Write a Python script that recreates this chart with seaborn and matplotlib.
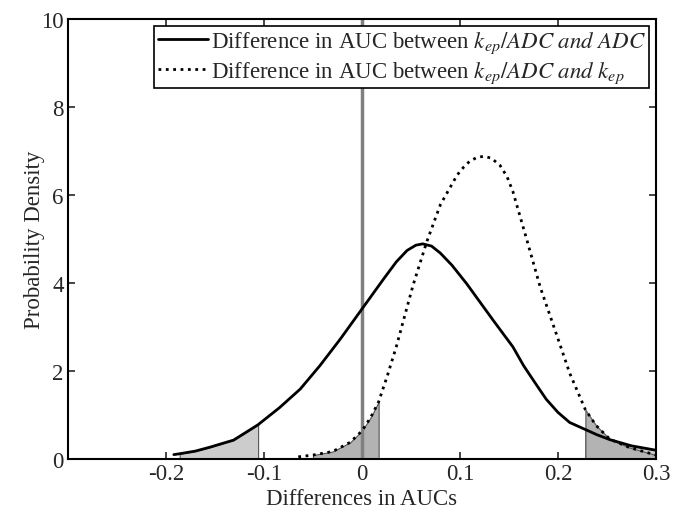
import numpy as np
import pandas as pd
import matplotlib
matplotlib.use("Agg")
import matplotlib.pyplot as plt
import seaborn as sns

# Density curves
solid_x = [-0.192, -0.186, -0.170, -0.155, -0.131, -0.106, -0.084, -0.063, -0.043, -0.022,
           0.000, 0.022, 0.035, 0.046, 0.055, 0.062, 0.071, 0.080, 0.092, 0.107,
           0.120, 0.134, 0.154, 0.165, 0.177, 0.188, 0.200, 0.212, 0.228, 0.240,
           0.253, 0.275, 0.300]
solid_y = [0.10, 0.12, 0.18, 0.27, 0.43, 0.78, 1.17, 1.59, 2.12, 2.73,
           3.41, 4.09, 4.48, 4.74, 4.86, 4.89, 4.84, 4.68, 4.40, 3.98,
           3.58, 3.15, 2.55, 2.12, 1.72, 1.36, 1.06, 0.83, 0.67, 0.55,
           0.44, 0.30, 0.20]

dotted_x = [-0.065, -0.050, -0.030, -0.012, 0.000, 0.009, 0.017, 0.026, 0.035, 0.052,
            0.066, 0.080, 0.097, 0.104, 0.110, 0.117, 0.124, 0.132, 0.141, 0.148,
            0.154, 0.168, 0.182, 0.199, 0.212, 0.228, 0.239, 0.253, 0.273, 0.300]
dotted_y = [0.05, 0.09, 0.17, 0.38, 0.64, 0.95, 1.30, 1.90, 2.55, 3.94,
            4.93, 5.78, 6.45, 6.64, 6.77, 6.85, 6.88, 6.84, 6.67, 6.42,
            6.08, 5.00, 3.90, 2.80, 1.95, 1.12, 0.76, 0.45, 0.26, 0.09]

# tail limits (shaded areas)
solid_tails = [(-0.186, -0.106), (0.228, 0.300)]
dotted_tails = [(-0.063, 0.017), (0.228, 0.300)]

label_solid = r"Difference in AUC between $k_{ep}/ADC\ and\ ADC$"
label_dotted = r"Difference in AUC between $k_{ep}/ADC\ and\ k_{ep}$"

sns.set_style("ticks")
plt.rcParams["font.family"] = ["Liberation Serif", "DejaVu Serif"]
plt.rcParams["mathtext.fontset"] = "stix"

fig = plt.figure(figsize=(6.86, 5.10), dpi=100)
ax = fig.add_axes([0.0991, 0.098, 0.8571, 0.8627])

sx, sy = np.array(solid_x), np.array(solid_y)
dx, dy = np.array(dotted_x), np.array(dotted_y)

for lo, hi in solid_tails:
    m = (sx >= lo) & (sx <= hi)
    ax.fill_between(sx[m], 0, sy[m], facecolor="#cccccc", edgecolor="#555555", linewidth=0.8, zorder=1)
for lo, hi in dotted_tails:
    m = (dx >= lo) & (dx <= hi)
    ax.fill_between(dx[m], 0, dy[m], facecolor="#b3b3b3", edgecolor="#555555", linewidth=0.8, zorder=1)

ax.axvline(0, color="#808080", linewidth=2.5, zorder=2)

df_s = pd.DataFrame({"x": solid_x, "y": solid_y})
df_d = pd.DataFrame({"x": dotted_x, "y": dotted_y})
sns.lineplot(data=df_s, x="x", y="y", ax=ax, color="black", linewidth=2, label=label_solid, zorder=3)
sns.lineplot(data=df_d, x="x", y="y", ax=ax, color="black", linewidth=2, linestyle=":", label=label_dotted, zorder=3)

ax.set_xlim(-0.3, 0.3)
ax.set_ylim(0, 10)
ax.set_xticks([-0.2, -0.1, 0, 0.1, 0.2, 0.3])
ax.set_xticklabels(["-0.2", "-0.1", "0", "0.1", "0.2", "0.3"])
ax.set_yticks([0, 2, 4, 6, 8, 10])
ax.tick_params(direction="in", top=True, right=True, length=5, width=1.2, labelsize=16.5, pad=3)
for s in ax.spines.values():
    s.set_linewidth(1.5)
    s.set_color("black")
ax.set_xlabel("Differences in AUCs", fontsize=16.5, labelpad=3)
ax.set_ylabel("Probability Density", fontsize=16.5, labelpad=-3)

leg = ax.legend(loc="upper right", fontsize=16.5, fancybox=False, edgecolor="black",
                framealpha=1, handlelength=2.2, handletextpad=0.1, borderaxespad=0.3,
                borderpad=0.15, labelspacing=0.2)
leg.get_frame().set_linewidth(1.2)

fig.savefig("out.png", dpi=100)
